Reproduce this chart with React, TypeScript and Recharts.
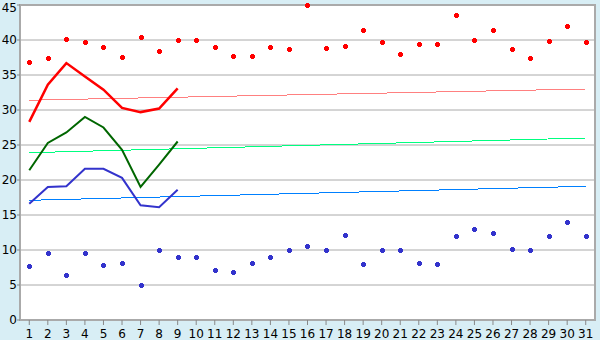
import { ComposedChart, Line, XAxis, YAxis, CartesianGrid, ReferenceLine, ReferenceArea } from 'recharts';

const days = [
  '1', '2', '3', '4', '5', '6', '7', '8', '9', '10', '11', '12', '13', '14', '15', '16',
  '17', '18', '19', '20', '21', '22', '23', '24', '25', '26', '27', '28', '29', '30', '31',
];

// daily highs (red markers)
const highs = [
  36.9, 37.4, 40.1, 39.7, 39.0, 37.5, 40.4, 38.4, 40.0, 40.0, 39.0, 37.7, 37.7, 39.0, 38.7, 45.0,
  38.8, 39.1, 41.4, 39.7, 38.0, 39.4, 39.5, 43.5, 40.0, 41.4, 38.7, 37.4, 39.8, 42.0, 39.7,
];

// daily lows (blue markers)
const lows = [
  7.7, 9.5, 6.4, 9.5, 7.8, 8.2, 5.0, 10.0, 9.0, 9.0, 7.2, 6.9, 8.2, 9.0, 10.0, 10.5,
  10.0, 12.1, 8.0, 10.0, 10.0, 8.2, 8.0, 12.0, 13.0, 12.5, 10.2, 10.0, 12.0, 14.0, 12.0,
];

// measured so far (first 9 days)
const maxLine = [28.3, 33.6, 36.7, 34.8, 32.9, 30.3, 29.7, 30.2, 33.1];
const meanLine = [21.4, 25.3, 26.8, 29.0, 27.5, 24.3, 19.0, 22.2, 25.5];
const minLine = [16.6, 19.0, 19.1, 21.6, 21.6, 20.3, 16.4, 16.1, 18.6];

// trend lines: value at day 1 and day 31
const maxTrend = [31.4, 33.0];
const meanTrend = [23.9, 26.0];
const minTrend = [17.1, 19.1];

const yDomain = [0, 45];
const yTicks = [0, 5, 10, 15, 20, 25, 30, 35, 40, 45];

const data = days.map((day, i) => ({
  day,
  high: highs[i],
  low: lows[i],
  max: maxLine[i],
  mean: meanLine[i],
  min: minLine[i],
}));

const font = 'Verdana, "DejaVu Sans", sans-serif';
const gridColor = '#aaaaaa';

function PlusDot(props: any) {
  const { cx, cy, fill } = props;
  if (cx == null || cy == null) return <g />;
  const x = Math.round(cx);
  const y = Math.round(cy);
  return (
    <g shapeRendering="crispEdges">
      <rect x={x - 2.5} y={y - 1.5} width={5} height={3} fill={fill} />
      <rect x={x - 1.5} y={y - 2.5} width={3} height={5} fill={fill} />
    </g>
  );
}

export default function App() {
  return (
    <div style={{ position: 'absolute', left: 0, top: 0, width: 600, height: 340, background: '#d8eef5' }}>
      <ComposedChart
        width={600}
        height={340}
        data={data}
        margin={{ top: 5, right: 5, left: 0, bottom: 0 }}
        style={{ fontFamily: font }}
      >
        <CartesianGrid vertical={false} stroke={gridColor} fill="#ffffff" fillOpacity={1} />
        <XAxis
          dataKey="day"
          scale="band"
          interval={0}
          height={20}
          tickSize={5}
          tickMargin={4}
          tick={{ fontSize: 12, fill: '#000' }}
          tickLine={{ stroke: '#888' }}
          axisLine={{ stroke: gridColor }}
        />
        <YAxis
          domain={yDomain}
          ticks={yTicks}
          width={20}
          tickSize={3}
          tickMargin={0}
          tick={{ fontSize: 12, fill: '#000' }}
          tickLine={{ stroke: '#888' }}
          axisLine={{ stroke: gridColor }}
        />
        {/* frame around the whole plot area */}
        <ReferenceArea
          y1={yDomain[0]}
          y2={yDomain[1]}
          ifOverflow="visible"
          fill="none"
          fillOpacity={0}
          stroke={gridColor}
          strokeWidth={2}
        />
        <ReferenceLine
          segment={[{ x: days[0], y: maxTrend[0] }, { x: days[days.length - 1], y: maxTrend[1] }]}
          stroke="#ff8080"
          strokeWidth={1}
          shapeRendering="crispEdges"
        />
        <ReferenceLine
          segment={[{ x: days[0], y: meanTrend[0] }, { x: days[days.length - 1], y: meanTrend[1] }]}
          stroke="#00ff80"
          strokeWidth={1}
          shapeRendering="crispEdges"
        />
        <ReferenceLine
          segment={[{ x: days[0], y: minTrend[0] }, { x: days[days.length - 1], y: minTrend[1] }]}
          stroke="#0080ff"
          strokeWidth={1}
          shapeRendering="crispEdges"
        />
        <Line dataKey="max" stroke="#ff0000" strokeWidth={2.5} dot={false} isAnimationActive={false} type="linear" />
        <Line dataKey="mean" stroke="#006600" strokeWidth={2} dot={false} isAnimationActive={false} type="linear" />
        <Line dataKey="min" stroke="#3333cc" strokeWidth={2} dot={false} isAnimationActive={false} type="linear" />
        <Line
          dataKey="high"
          stroke="none"
          fill="#ff0000"
          dot={(p: any) => <PlusDot key={`h${p.index}`} {...p} fill="#ff0000" />}
          activeDot={false}
          isAnimationActive={false}
        />
        <Line
          dataKey="low"
          stroke="none"
          fill="#3333cc"
          dot={(p: any) => <PlusDot key={`l${p.index}`} {...p} fill="#3333cc" />}
          activeDot={false}
          isAnimationActive={false}
        />
      </ComposedChart>
    </div>
  );
}
